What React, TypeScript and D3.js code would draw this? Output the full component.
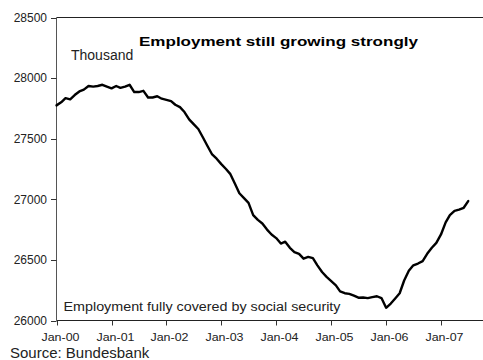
import React from "react";
import * as d3 from "d3";

const startYear = 2000;
const employment: number[] = [
  27775, 27800, 27835, 27825, 27860, 27890, 27905, 27935, 27930, 27935, 27945, 27930,
  27915, 27935, 27920, 27930, 27945, 27885, 27885, 27895, 27840, 27840, 27850, 27830,
  27820, 27810, 27780, 27760, 27720, 27660, 27620, 27580, 27510, 27440, 27370, 27335,
  27290, 27250, 27210, 27130, 27050, 27010, 26970, 26870, 26830, 26800, 26750, 26710,
  26680, 26635, 26650, 26600, 26565, 26550, 26510, 26525, 26515, 26455, 26400, 26360,
  26325, 26290, 26240, 26225, 26220, 26205, 26188, 26190, 26185, 26193, 26200, 26185,
  26105, 26140, 26180, 26225, 26330, 26410, 26455, 26470, 26490, 26550, 26600, 26640,
  26710, 26810, 26870, 26905, 26915, 26930, 26985,
];
const yTicks: number[] = [26000, 26500, 27000, 27500, 28000, 28500];
const xTickYears: number[] = [2000, 2001, 2002, 2003, 2004, 2005, 2006, 2007];
const xTickLabels: string[] = ["Jan-00", "Jan-01", "Jan-02", "Jan-03", "Jan-04", "Jan-05", "Jan-06", "Jan-07"];
const title = "Employment still growing strongly";
const unitLabel = "Thousand";
const seriesLabel = "Employment fully covered by social security";
const sourceLabel = "Source: Bundesbank";

const W = 483;
const H = 360;
const left = 56.5;
const right = 483;
const top = 17.5;
const bottom = 320.5;
const font = "'Liberation Sans', Arial, Helvetica, sans-serif";
const textColor = "#222";

export default function App() {
  const data = employment.map((v, i) => ({ date: new Date(startYear, i, 1), value: v }));
  const x = d3
    .scaleTime()
    .domain([new Date(2000, 0, 1), new Date(2007, 0, 1)])
    .range([left, 441]);
  const y = d3.scaleLinear().domain([26000, 28500]).range([bottom, top]);
  const line = d3
    .line<{ date: Date; value: number }>()
    .x((d) => x(d.date))
    .y((d) => y(d.value));

  return (
    <div style={{ position: "fixed", left: 0, top: 0, width: W, height: H, background: "#fff" }}>
      <svg width={W} height={H} style={{ display: "block" }}>
        <rect x={0} y={0} width={W} height={H} fill="#fff" />
        {/* top border */}
        <line x1={left} x2={right} y1={top} y2={top} stroke="#222" strokeWidth={1} />
        {/* y axis */}
        <line x1={left} x2={left} y1={top} y2={bottom} stroke="#555" strokeWidth={1} />
        {yTicks.map((t) => (
          <g key={t}>
            <line x1={left - 5.5} x2={left} y1={Math.round(y(t)) + 0.5} y2={Math.round(y(t)) + 0.5} stroke="#333" />
            <text
              x={47}
              y={y(t)}
              dy="0.35em"
              textAnchor="end"
              fontFamily={font}
              fontSize={12}
              fill={textColor}
            >
              {t}
            </text>
          </g>
        ))}
        {/* x axis */}
        <line x1={left} x2={right} y1={bottom} y2={bottom} stroke="#222" strokeWidth={1} />
        {xTickYears.map((yr, i) => {
          const xp = Math.round(x(new Date(yr, 0, 1))) + 0.5;
          return (
            <g key={yr}>
              <line x1={xp} x2={xp} y1={bottom} y2={bottom + 5} stroke="#333" />
              <text
                x={xp + 3}
                y={341}
                textAnchor="middle"
                fontFamily={font}
                fontSize={11}
                textLength={38}
                lengthAdjust="spacingAndGlyphs"
                fill={textColor}
              >
                {xTickLabels[i]}
              </text>
            </g>
          );
        })}
        {/* series */}
        <path
          d={line(data) || ""}
          fill="none"
          stroke="#000"
          strokeWidth={2.4}
          strokeLinejoin="round"
          strokeLinecap="round"
        />
        {/* texts */}
        <text
          x={139}
          y={45.5}
          fontFamily={font}
          fontWeight="bold"
          fontSize={13.5}
          textLength={279}
          lengthAdjust="spacingAndGlyphs"
          fill="#000"
        >
          {title}
        </text>
        <text x={71} y={60} fontFamily={font} fontSize={14} fill={textColor}>
          {unitLabel}
        </text>
        <text
          x={63.5}
          y={311}
          fontFamily={font}
          fontSize={12.5}
          textLength={277}
          lengthAdjust="spacingAndGlyphs"
          fill={textColor}
        >
          {seriesLabel}
        </text>
        <text x={10} y={358} fontFamily={font} fontSize={15} fill={textColor}>
          {sourceLabel}
        </text>
      </svg>
    </div>
  );
}
